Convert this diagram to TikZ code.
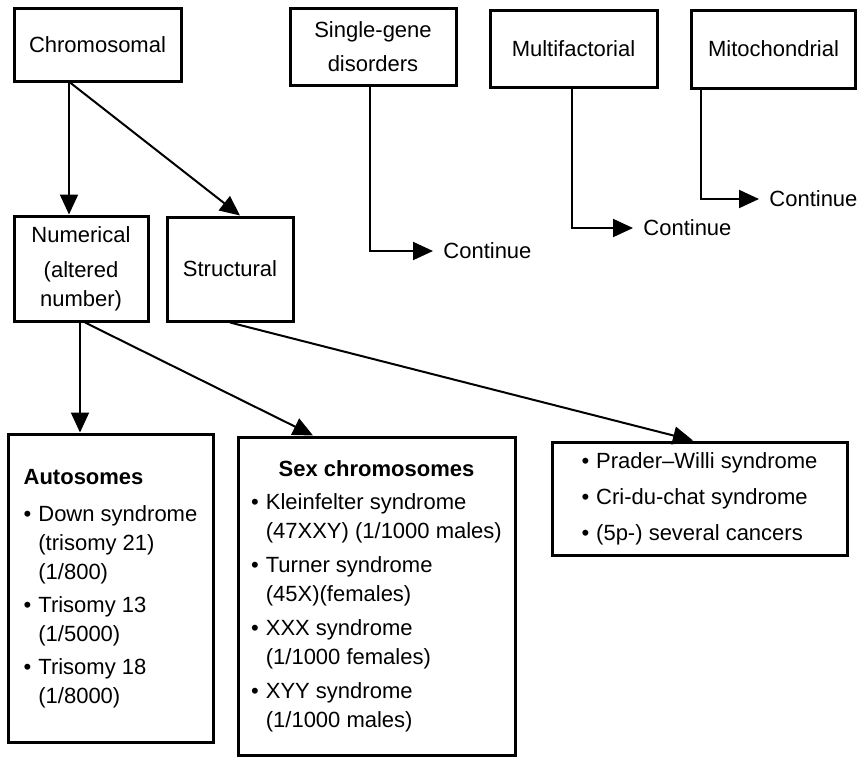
\documentclass[tikz,border=0pt]{standalone}
\usepackage{fontspec}
\setmainfont{Liberation Sans}
\usetikzlibrary{arrows.meta}

\begin{document}
\begin{tikzpicture}[x=0.5pt, y=-0.5pt,
    box/.style={shape=rectangle, draw=black, line width=1.5pt, inner sep=0pt,
                font=\fontsize{11}{14.5}\selectfont, align=center},
    link/.style={line width=1pt, -{Triangle[length=10pt,width=9pt]}},
    cont/.style={anchor=west, inner xsep=5pt, inner ysep=0pt,
                font=\fontsize{11}{14.5}\selectfont}]
    \useasboundingbox (0,0) rectangle (857,756);

    % top row
    \node[box, minimum width=83.5pt, minimum height=36.5pt] (chrom) at (97.5,44.5) {Chromosomal};
    \node[box, minimum width=83pt, minimum height=38.5pt] (single) at (373,46.5) {Single-gene\\[2.5pt]disorders};
    \node[box, minimum width=83.5pt, minimum height=38.5pt] (multi) at (573.5,48.5) {Multifactorial};
    \node[box, minimum width=82pt, minimum height=39pt] (mito) at (773.5,49) {Mitochondrial};

    \node[cont] (cont1) at (433,251) {Continue};
    \node[cont] (cont2) at (633,228) {Continue};
    \node[cont] (cont3) at (759,199) {Continue};

    % second row
    \node[box, minimum width=67pt, minimum height=52.5pt] (num) at (81,268.5) {Numerical\\[3pt](altered\\number)};
    \node[box, minimum width=63pt, minimum height=52pt] (struct) at (230,269) {Structural};

    % bottom row
    \node[box, minimum width=102.5pt, minimum height=154pt] (auto) at (110.5,588) {%
      \begin{tabular}{@{}l@{\hspace{3.5pt}}l@{}}
        \multicolumn{2}{@{}l@{}}{\textbf{Autosomes}}\\[4pt]
        \textbullet & Down syndrome\\
                    & (trisomy 21)\\
                    & (1/800)\\[2pt]
        \textbullet & Trisomy 13\\
                    & (1/5000)\\[2pt]
        \textbullet & Trisomy 18\\
                    & (1/8000)
      \end{tabular}};
    \node[box, minimum width=138.5pt, minimum height=159pt] (sex) at (376.5,596) {%
      \begin{tabular}{@{}l@{\hspace{3.5pt}}l@{}}
        \multicolumn{2}{c}{\textbf{Sex chromosomes}}\\[2pt]
        \textbullet & Kleinfelter syndrome\\
                    & (47XXY) (1/1000 males)\\[2.5pt]
        \textbullet & Turner syndrome\\
                    & (45X)(females)\\[2.5pt]
        \textbullet & XXX syndrome\\
                    & (1/1000 females)\\[2.5pt]
        \textbullet & XYY syndrome\\
                    & (1/1000 males)
      \end{tabular}};
    \node[box, minimum width=147.5pt, minimum height=56.5pt] (prader) at (699.5,498.5) {%
      \begin{tabular}{@{}l@{\hspace{3.5pt}}l@{}}
        \textbullet & Prader--Willi syndrome\\[3.5pt]
        \textbullet & Cri-du-chat syndrome\\[3.5pt]
        \textbullet & (5p-) several cancers
      \end{tabular}};

    % arrows
    \path [link] ([xshift=-14.25pt]chrom.south) edge ([xshift=-14.25pt]chrom.south |- num.north);
    \path [link] ([xshift=-13.75pt]chrom.south) edge ([xshift=5pt]struct.north);

    \draw [link] ([xshift=-1.5pt]single.south) |- (cont1.west);
    \draw [link] ([xshift=-0.75pt]multi.south) |- (cont2.west);
    \draw [link] ([xshift=-36.25pt]mito.south) |- (cont3.west);

    \path [link] ([xshift=-0.5pt]num.south) edge ([xshift=-0.5pt]num.south |- auto.north);
    \path [link] ([xshift=2pt]num.south) edge ([xshift=-31.75pt]sex.north);
    \path [link] (struct.south) edge ([xshift=-3.25pt]prader.north);
\end{tikzpicture}
\end{document}
